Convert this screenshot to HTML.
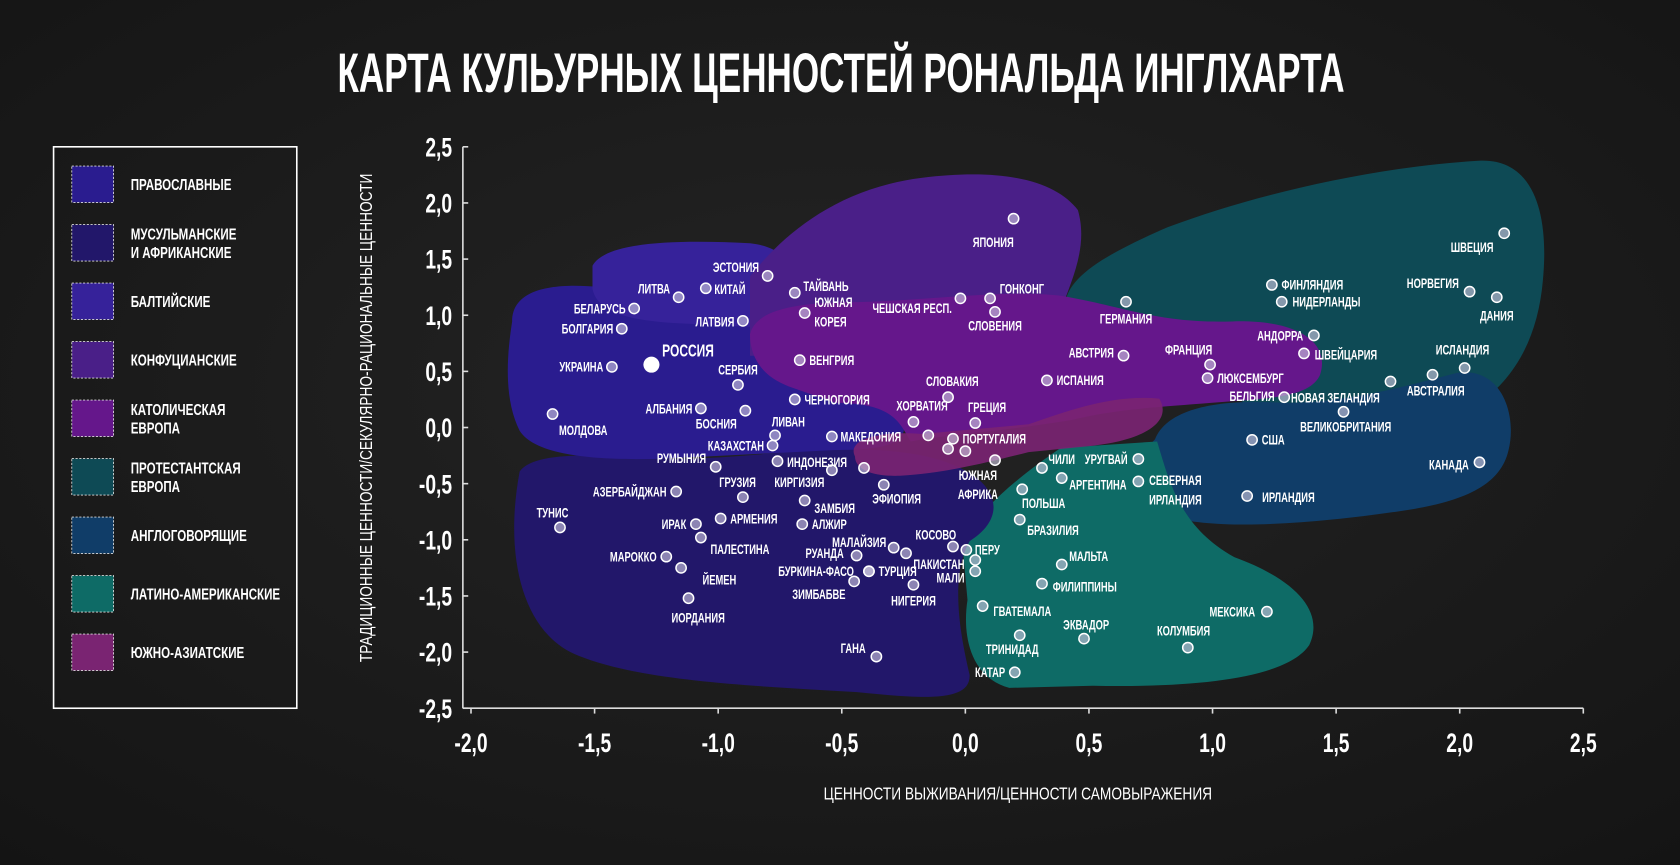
<!DOCTYPE html>
<html><head><meta charset="utf-8">
<style>
html,body{margin:0;padding:0;background:#1b1b1b;}
svg{display:block;}
text{font-family:"Liberation Sans Narrow","Liberation Sans",sans-serif;font-weight:bold;fill:#fff;}
</style></head>
<body>
<svg id="chart" width="1680" height="865" viewBox="0 0 1568 807.3" xmlns="http://www.w3.org/2000/svg">
<defs>
<radialGradient id="bg" cx="50%" cy="45%" r="75%">
<stop offset="0" stop-color="#242424"/><stop offset="1" stop-color="#141414"/>
</radialGradient>
</defs>
<rect x="0" y="0" width="1568" height="808" fill="url(#bg)"/>
<text x="785" y="86" font-size="52" text-anchor="middle" textLength="940" lengthAdjust="spacingAndGlyphs">КАРТА КУЛЬУРНЫХ ЦЕННОСТЕЙ РОНАЛЬДА ИНГЛХАРТА</text>

<g>
<rect x="50" y="137" width="227" height="524" fill="none" stroke="#fff" stroke-width="1.5"/>
</g>
<g id="legendItems"></g>

<g id="regions">
<path fill="#0e4a55" d="M995,292 C988,262 1030,238 1090,212 C1170,182 1280,156 1380,150 C1432,147 1446,200 1440,262 C1434,330 1400,380 1330,400 L1200,402 L1100,335 L1010,312 Z"/>
<path fill="#103d68" d="M1078,410 C1090,380 1140,372 1200,376 C1260,376 1320,358 1360,348 C1402,342 1416,388 1408,420 C1400,456 1360,470 1300,478 C1230,488 1140,496 1090,482 C1058,472 1058,430 1078,410 Z"/>
<path fill="#0e6b66" d="M898,505 C918,470 958,440 990,418 L1080,412 C1092,452 1102,492 1152,520 C1212,542 1236,572 1222,602 C1202,632 1122,642 1020,640 L942,642 C905,632 898,592 903,560 Z"/>
<path fill="#22176a" d="M485,440 C500,420 560,425 620,428 C700,430 780,410 860,425 C932,440 945,480 905,505 C885,540 898,600 905,630 C906,656 860,652 800,646 C700,640 600,636 540,612 C488,592 470,520 485,440 Z"/>
<path fill="#2a1c8f" d="M478,300 C478,268 520,264 560,268 L605,266 L705,300 L742,360 C782,364 822,370 842,390 C852,416 820,420 780,420 L620,428 C560,430 500,426 485,402 C470,372 473,332 478,300 Z"/>
<path fill="#36229a" d="M553,248 C566,224 640,224 700,227 C737,231 747,256 741,282 L720,306 L640,302 C588,300 558,292 553,270 Z"/>
<path fill="#4a1f88" d="M700,258 C730,220 780,176 860,166 C940,156 986,170 1006,196 C1016,230 1000,262 990,290 L900,322 L760,332 L700,332 Z"/>
<path fill="#65178b" d="M700,312 C705,290 740,282 800,282 C870,280 940,270 990,276 C1050,286 1080,302 1150,300 C1212,298 1242,320 1232,350 C1222,372 1180,372 1130,376 C1080,380 1040,382 1000,392 C940,402 880,406 850,412 C840,396 835,376 780,376 L740,362 C710,352 700,332 700,312 Z"/>
<path fill="#7a2472" opacity="0.92" d="M798,426 C790,410 820,402 860,405 L960,396 C1000,382 1040,368 1082,372 C1094,392 1072,410 1020,416 L960,422 C920,432 880,442 840,444 C810,445 798,436 798,426 Z"/>
</g>

<g id="axes"></g>
<g transform="translate(347,390) rotate(-90) scale(0.8,1)"><text x="0" y="0" font-size="16" text-anchor="middle" style="font-weight:normal">ТРАДИЦИОННЫЕ ЦЕННОСТИ/СЕКУЛЯРНО-РАЦИОНАЛЬНЫЕ ЦЕННОСТИ</text></g>
<g transform="translate(950,746) scale(0.8,1)"><text x="0" y="0" font-size="16" text-anchor="middle" style="font-weight:normal">ЦЕННОСТИ ВЫЖИВАНИЯ/ЦЕННОСТИ САМОВЫРАЖЕНИЯ</text></g>
<g id="points"></g>
</svg>
<script>
// ---- data ----
const legendLabels = [["ПРАВОСЛАВНЫЕ"],["МУСУЛЬМАНСКИЕ","И АФРИКАНСКИЕ"],["БАЛТИЙСКИЕ"],["КОНФУЦИАНСКИЕ"],["КАТОЛИЧЕСКАЯ","ЕВРОПА"],["ПРОТЕСТАНТСКАЯ","ЕВРОПА"],["АНГЛОГОВОРЯЩИЕ"],["ЛАТИНО-АМЕРИКАНСКИЕ"],["ЮЖНО-АЗИАТСКИЕ"]];
const legendColors = ["#2a1c8f","#22176a","#36229a","#4a1f88","#65178b","#0e4a55","#103d68","#0e6b66","#7a2472"];
const xTicks = [-2.0,-1.5,-1.0,-0.5,0.0,0.5,1.0,1.5,2.0,2.5];
const yTicks = [2.5,2.0,1.5,1.0,0.5,0.0,-0.5,-1.0,-1.5,-2.0,-2.5];
const countries = ["ЯПОНИЯ","ГОНКОНГ","ЧЕШСКАЯ РЕСП.","СЛОВЕНИЯ","ЭСТОНИЯ","КИТАЙ","ЛИТВА","ТАЙВАНЬ","ЮЖНАЯ|КОРЕЯ","ЛАТВИЯ","БЕЛАРУСЬ","БОЛГАРИЯ","УКРАИНА","РОССИЯ","ВЕНГРИЯ","СЕРБИЯ","ЧЕРНОГОРИЯ","АЛБАНИЯ","БОСНИЯ","МОЛДОВА","ЛИВАН","КАЗАХСТАН","МАКЕДОНИЯ","ИНДОНЕЗИЯ","РУМЫНИЯ","КИРГИЗИЯ","ГРУЗИЯ","АЗЕРБАЙДЖАН","АРМЕНИЯ","ЗАМБИЯ","АЛЖИР","МАЛАЙЗИЯ","","КОСОВО","ПЕРУ","ПАКИСТАН","МАЛИ","РУАНДА","БУРКИНА-ФАСО","ТУРЦИЯ","ЗИМБАБВЕ","НИГЕРИЯ","ЭФИОПИЯ","ТУНИС","ИРАК","ПАЛЕСТИНА","МАРОККО","ЙЕМЕН","ИОРДАНИЯ","ГАНА","КАТАР","ЮЖНАЯ|АФРИКА","ХОРВАТИЯ","СЛОВАКИЯ","ГРЕЦИЯ","ПОРТУГАЛИЯ","","","","","ИСПАНИЯ","АВСТРИЯ","ГЕРМАНИЯ","ФРАНЦИЯ","ЛЮКСЕМБУРГ","БЕЛЬГИЯ","АНДОРРА","ШВЕЙЦАРИЯ","НИДЕРЛАНДЫ","ФИНЛЯНДИЯ","НОРВЕГИЯ","ДАНИЯ","ШВЕЦИЯ","ИСЛАНДИЯ","АВСТРАЛИЯ","НОВАЯ ЗЕЛАНДИЯ","ВЕЛИКОБРИТАНИЯ","США","КАНАДА","ИРЛАНДИЯ","СЕВЕРНАЯ|ИРЛАНДИЯ","УРУГВАЙ","ЧИЛИ","АРГЕНТИНА","ПОЛЬША","БРАЗИЛИЯ","МАЛЬТА","ФИЛИППИНЫ","ГВАТЕМАЛА","ТРИНИДАД","ЭКВАДОР","КОЛУМБИЯ","МЕКСИКА"];
const survivalSelfExpr = [0.195,0.10,-0.02,0.12,-0.80,-1.05,-1.16,-0.69,-0.65,-0.90,-1.34,-1.39,-1.43,-1.27,-0.67,-0.92,-0.69,-1.07,-0.89,-1.67,-0.77,-0.78,-0.54,-0.76,-1.01,-0.54,-0.90,-1.17,-0.99,-0.65,-0.66,-0.29,-0.24,-0.05,0.004,0.04,0.04,-0.44,-0.39,-0.39,-0.45,-0.21,-0.33,-1.64,-1.09,-1.07,-1.21,-1.15,-1.12,-0.36,0.20,0.12,-0.21,-0.07,0.04,-0.05,-0.15,-0.07,0.0,-0.41,0.33,0.64,0.65,0.99,0.98,1.29,1.41,1.37,1.28,1.24,2.04,2.15,2.18,2.02,1.89,1.72,1.53,1.16,2.08,1.14,0.70,0.70,0.31,0.39,0.23,0.22,0.39,0.31,0.07,0.22,0.48,0.90,1.22];
const tradSecular = [1.86,1.15,1.15,1.03,1.35,1.24,1.16,1.20,1.02,0.95,1.06,0.88,0.54,0.56,0.60,0.38,0.25,0.17,0.15,0.12,-0.07,-0.16,-0.08,-0.30,-0.35,-0.38,-0.62,-0.57,-0.81,-0.65,-0.86,-1.07,-1.12,-1.06,-1.09,-1.18,-1.28,-1.14,-1.28,-1.28,-1.37,-1.40,-0.51,-0.89,-0.86,-0.98,-1.15,-1.25,-1.52,-2.04,-2.18,-0.29,0.05,0.27,0.04,-0.10,-0.07,-0.19,-0.21,-0.36,0.42,0.64,1.12,0.56,0.44,0.27,0.82,0.66,1.12,1.27,1.21,1.16,1.73,0.53,0.47,0.41,0.14,-0.11,-0.31,-0.61,-0.48,-0.28,-0.36,-0.45,-0.55,-0.82,-1.22,-1.39,-1.59,-1.85,-1.88,-1.96,-1.64];
// label placement (layout only): [dx, dy, anchor]
const labelPlace = [[-19,22,"middle"],[9,-9,"start"],[-8,9,"end"],[0,13,"middle"],[-8,-8,"end"],[8,1,"start"],[-8,-8,"end"],[8,-6,"start"],[9,-10,"start"],[-8,1,"end"],[-8,0,"end"],[-8,0,"end"],[-8,0,"end"],[10,-12,"start"],[9,0,"start"],[0,-14,"middle"],[9,0,"start"],[-8,0,"end"],[-8,12,"end"],[6,15,"start"],[-3,-13,"start"],[-8,0,"end"],[8,0,"start"],[9,1,"start"],[-9,-8,"end"],[-7,11,"end"],[-5,-14,"middle"],[-9,0,"end"],[9,0,"start"],[9,7,"start"],[9,0,"start"],[-7,-5,"end"],[0,0,"start"],[-16,-11,"middle"],[8,0,"start"],[-10,4,"end"],[-10,6,"end"],[-12,-2,"end"],[-14,0,"end"],[9,0,"start"],[-8,12,"end"],[0,15,"middle"],[12,13,"middle"],[-7,-14,"middle"],[-9,0,"end"],[9,11,"start"],[-9,0,"end"],[20,11,"start"],[9,18,"middle"],[-10,-8,"end"],[-9,0,"end"],[-16,14,"middle"],[8,-15,"middle"],[4,-15,"middle"],[11,-15,"middle"],[9,0,"start"],[0,0,"start"],[0,0,"start"],[0,0,"start"],[0,0,"start"],[9,0,"start"],[-9,-3,"end"],[0,16,"middle"],[-20,-14,"middle"],[9,0,"start"],[-9,-1,"end"],[-10,0,"end"],[10,1,"start"],[10,0,"start"],[9,0,"start"],[-10,-8,"end"],[0,17,"middle"],[-10,13,"end"],[-2,-17,"middle"],[3,15,"middle"],[-10,15,"end"],[2,14,"middle"],[9,0,"start"],[-10,2,"end"],[14,1,"start"],[10,-1,"start"],[-10,0,"end"],[6,-8,"start"],[7,6,"start"],[20,13,"middle"],[7,10,"start"],[7,-8,"start"],[10,3,"start"],[10,5,"start"],[-7,13,"middle"],[2,-13,"middle"],[-4,-16,"middle"],[-11,0,"end"]];

const NS = "http://www.w3.org/2000/svg";
const svg = document.getElementById('chart');
function xs(v){ return 901 + 230.7 * v; }
function ys(v){ return 399 - 104.8 * v; }
function mk(tag, attrs, parent){ const e = document.createElementNS(NS, tag); for (const k in attrs) e.setAttribute(k, attrs[k]); parent.appendChild(e); return e; }
function fmt(v){ return v.toFixed(1).replace('.', ','); }
// condensed text: group scaled horizontally
function ctext(parent, x, y, size, anchor, sx, str){
  const g = mk('g', {transform:'translate(' + x + ',' + y + ') scale(' + sx + ',1)'}, parent);
  const t = mk('text', {x:0, y:0, 'font-size':size, 'text-anchor':anchor}, g);
  t.textContent = str;
  return t;
}

// legend
const lg = document.getElementById('legendItems');
legendLabels.forEach((lines, i) => {
  const top = 155 + i * 54.6;
  const sw = mk('rect', {x:67, y:top, width:39, height:34, fill:legendColors[i], stroke:'#ddd', 'stroke-width':0.8, 'stroke-dasharray':'2,1.5'}, lg);
  
  
  lines.forEach((ln, j) => {
    const y = top + 17 + 5.5 + (j - (lines.length - 1) / 2) * 17;
    const t = ctext(lg, 122, y, 15, 'start', 0.72, ln);
    
    
  });
});

// axes
const ax = document.getElementById('axes');
const yl = mk('line', {x1:432, y1:ys(2.5), x2:432, y2:ys(-2.5), stroke:'#ddd', 'stroke-width':1.5}, ax);


const xl = mk('line', {x1:432, y1:ys(-2.5), x2:xs(2.5), y2:ys(-2.5), stroke:'#ddd', 'stroke-width':1.5}, ax);


yTicks.forEach(v => {
  const tk = mk('line', {x1:432, y1:ys(v), x2:437, y2:ys(v), stroke:'#ddd', 'stroke-width':1.5}, ax);
  
  
  const t = ctext(ax, 422, ys(v) + 9, 25, 'end', 0.72, fmt(v));
  
  
});
xTicks.forEach(v => {
  const tk = mk('line', {x1:xs(v), y1:ys(-2.5), x2:xs(v), y2:ys(-2.5) + 5, stroke:'#ddd', 'stroke-width':1.5}, ax);
  
  
  const t = ctext(ax, xs(v), 702, 25, 'middle', 0.72, fmt(v));
  
  
});

// points
const pg = document.getElementById('points');
countries.forEach((name, i) => {
  const cx = xs(survivalSelfExpr[i]), cy = ys(tradSecular[i]);
  const isRu = name === "РОССИЯ";
  const c = mk('circle', {cx:cx, cy:cy, r:isRu ? 7.5 : 4.8, fill:isRu ? '#fff' : 'rgba(205,200,225,0.62)', stroke:'#fff', 'stroke-width':isRu ? 0 : 1.4}, pg);
  
  
  if (!name) return;
  const p = labelPlace[i];
  const lines = name.split('|');
  lines.forEach((ln, j) => {
    const t = ctext(pg, cx + p[0], cy + p[1] + 4.5 + j * 18, isRu ? 16 : 12.5, p[2], 0.7, ln);
    
    
  });
});
</script>
</body></html>
